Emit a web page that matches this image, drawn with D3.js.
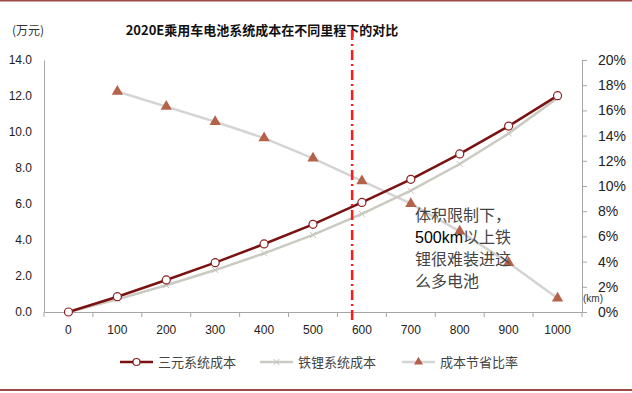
<!DOCTYPE html>
<html>
<head>
<meta charset="utf-8">
<script src="https://cdn.jsdelivr.net/npm/d3@7"></script>
<style>
html,body{margin:0;padding:0;background:#fff;}
svg{display:block;}
</style>
</head>
<body>
<svg id="chart" width="632" height="393"></svg>
<script>
const categories = [0,100,200,300,400,500,600,700,800,900,1000];
const ternaryCost = [0,0.85,1.78,2.74,3.78,4.87,6.09,7.37,8.78,10.33,12.02];
const lfpCost = [0,0.70,1.49,2.33,3.26,4.28,5.45,6.74,8.22,9.92,11.89];
const savingRate = [null,0.175,0.163,0.151,0.138,0.122,0.104,0.086,0.064,0.039,0.011];
const leftTicks = [0,2,4,6,8,10,12,14];
const rightTicks = [0,0.02,0.04,0.06,0.08,0.10,0.12,0.14,0.16,0.18,0.20];
const limitKm = 580;
const seriesNames = ["三元系统成本","铁锂系统成本","成本节省比率"];
const titleText = "2020E乘用车电池系统成本在不同里程下的对比";
const unitText = "(万元)";
const xUnitText = "(km)";
const noteLines = [["体积限制下，"],["500km","以上铁"],["锂很难装进这"],["么多电池"]];

const cjk = "'Noto Sans CJK SC', sans-serif";
const num = "'Liberation Sans', Arial, sans-serif";
const svg = d3.select("#chart");

const x = d3.scaleBand().domain(categories).range([44,582]).padding(0);
const cx = d => x(d) + x.bandwidth()/2;
const yL = d3.scaleLinear().domain([0,14]).range([312,60]);
const yR = d3.scaleLinear().domain([0,0.2]).range([312,60]);
const kmScale = d3.scaleLinear().domain([categories[0], categories[categories.length-1]])
  .range([cx(categories[0]), cx(categories[categories.length-1])]);

// borders
svg.append("line").attr("x1",0).attr("x2",632).attr("y1",0.75).attr("y2",0.75)
  .attr("stroke","#9c4a4a").attr("stroke-width",1.5);
svg.append("line").attr("x1",0).attr("x2",632).attr("y1",390).attr("y2",390)
  .attr("stroke","#9c4a4a").attr("stroke-width",2);

// title
svg.append("text").attr("x",262).attr("y",35).attr("text-anchor","middle")
  .attr("font-family",cjk).attr("font-weight","bold").attr("font-size",13)
  .attr("fill","#111").text(titleText);
svg.append("text").attr("x",12).attr("y",35)
  .attr("font-family",cjk).attr("font-size",12).attr("fill","#333").text(unitText);

// left axis
const gL = svg.append("g").attr("transform","translate(44,0)")
  .call(d3.axisLeft(yL).tickValues(leftTicks).tickSize(0).tickPadding(12).tickFormat(d3.format(".1f")));
gL.select(".domain").attr("stroke","#a6a6a6");
gL.selectAll("text").attr("font-family",num).attr("font-size",12).attr("fill","#222");

// right axis
const gR = svg.append("g").attr("transform","translate(582,0)")
  .call(d3.axisRight(yR).tickValues(rightTicks).tickSize(5).tickPadding(11).tickFormat(d3.format(".0%")));
gR.select(".domain").attr("stroke","#a6a6a6");
gR.selectAll(".tick line").attr("stroke","#a6a6a6");
gR.selectAll("text").attr("font-family",num).attr("font-size",14).attr("fill","#222");

// bottom axis
const gB = svg.append("g").attr("transform","translate(0,312)")
  .call(d3.axisBottom(x).tickSize(0).tickPadding(13));
gB.select(".domain").attr("stroke","#a6a6a6");
gB.selectAll("text").attr("font-family",num).attr("font-size",12).attr("fill","#222");
const bounds = categories.map(d => x(d)).concat([x.range()[1]]);
gB.selectAll(".bt").data(bounds).enter().append("line")
  .attr("x1",d=>d).attr("x2",d=>d).attr("y1",0).attr("y2",5).attr("stroke","#a6a6a6");

svg.append("text").attr("x",583).attr("y",302).attr("font-family",num).attr("font-size",10)
  .attr("fill","#333").text(xUnitText);

// savings line
const idx = d3.range(categories.length);
const lineR = d3.line().defined(i => savingRate[i] != null).x(i => cx(categories[i])).y(i => yR(savingRate[i]));
svg.append("path").datum(idx).attr("d",lineR).attr("fill","none").attr("stroke","#d4d4d4").attr("stroke-width",2.5);

// lfp line
const lineLfp = d3.line().x(i => cx(categories[i])).y(i => yL(lfpCost[i]));
svg.append("path").datum(idx).attr("d",lineLfp).attr("fill","none").attr("stroke","#cacac2").attr("stroke-width",2.5);
svg.selectAll(".xm").data(idx).enter().append("path")
  .attr("transform",i=>`translate(${cx(categories[i])},${yL(lfpCost[i])})`)
  .attr("d","M-3,-3L3,3M-3,3L3,-3").attr("stroke","#c4c4bc").attr("stroke-width",1);

// ternary line
const lineTer = d3.line().x(i => cx(categories[i])).y(i => yL(ternaryCost[i]));
svg.append("path").datum(idx).attr("d",lineTer).attr("fill","none").attr("stroke","#7a1212").attr("stroke-width",2.5);
svg.selectAll(".cm").data(idx).enter().append("circle")
  .attr("cx",i=>cx(categories[i])).attr("cy",i=>yL(ternaryCost[i])).attr("r",4)
  .attr("fill","#fff").attr("stroke","#8a2020").attr("stroke-width",1.2);

// triangles
const tri = d3.symbol().type(d3.symbolTriangle).size(55);
svg.selectAll(".tm").data(idx.filter(i=>savingRate[i]!=null)).enter().append("path")
  .attr("transform",i=>`translate(${cx(categories[i])},${yR(savingRate[i])})`)
  .attr("d",tri).attr("fill","#b5624a");

// limit line
svg.append("line").attr("x1",kmScale(limitKm)).attr("x2",kmScale(limitKm)).attr("y1",30).attr("y2",322)
  .attr("stroke","#ff1a1a").attr("stroke-width",2.5).attr("stroke-dasharray","10,4,2,4");

// note
noteLines.forEach((parts,k) => {
  const t = svg.append("text").attr("x",415).attr("y",221 + k*22).attr("font-size",16);
  parts.forEach(p => {
    const isNum = /^[0-9a-z]+$/.test(p);
    t.append("tspan").attr("font-family", isNum ? num : cjk).attr("fill", isNum ? "#000" : "#444").text(p);
  });
});

// legend
const legendX = [120,260,402];
const colors = ["#7a1212","#cacac2","#d4d4d4"];
seriesNames.forEach((nm,k) => {
  const g = svg.append("g").attr("transform",`translate(${legendX[k]},362)`);
  g.append("line").attr("x1",0).attr("x2",33).attr("y1",0).attr("y2",0).attr("stroke",colors[k]).attr("stroke-width",2.5);
  if (k===0) g.append("circle").attr("cx",16.5).attr("cy",0).attr("r",3.5).attr("fill","#fff").attr("stroke","#8a2020").attr("stroke-width",1.2);
  if (k===1) g.append("path").attr("transform","translate(16.5,0)").attr("d","M-3,-3L3,3M-3,3L3,-3").attr("stroke","#c4c4bc");
  if (k===2) g.append("path").attr("transform","translate(16.5,0)").attr("d",d3.symbol().type(d3.symbolTriangle).size(35)).attr("fill","#b5624a");
  g.append("text").attr("x",38).attr("y",4.5).attr("font-family",cjk).attr("font-size",13).attr("fill","#444").text(nm);
});
</script>
</body>
</html>
